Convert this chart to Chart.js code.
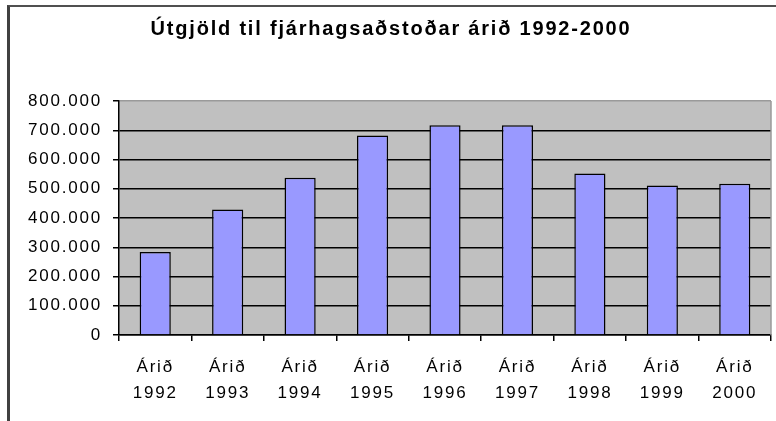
<!DOCTYPE html>
<html>
<head>
<meta charset="utf-8">
<script src="https://cdn.jsdelivr.net/npm/chart.js@4/dist/chart.umd.min.js"></script>
<style>
  html, body { margin: 0; padding: 0; background: #fff; }
  #wrap { position: relative; width: 776px; height: 421px; overflow: hidden; }
  #frame { position: absolute; left: 7px; top: 5px; width: 900px; height: 600px;
           border-left: 3px solid #404040; border-top: 2px solid #505050; }
  canvas { position: absolute; left: 0; top: 0; }
</style>
</head>
<body>
<div id="wrap">
  <div id="frame"></div>
  <canvas id="chart" width="776" height="421"></canvas>
</div>
<script>
// gögn
const years = ['1992', '1993', '1994', '1995', '1996', '1997', '1998', '1999', '2000'];
const expenses = [284000, 429000, 538000, 682000, 717000, 717000, 552000, 511000, 517000];
const yTickValues = [0, 100000, 200000, 300000, 400000, 500000, 600000, 700000, 800000];

const FONT = 'Liberation Sans, Arial, sans-serif';

const fmt = v => String(v).replace(/\B(?=(\d{3})+(?!\d))/g, '.');

// grár bakgrunnur, hægri rammi og stafabil eins og í Excel
const excelLook = {
    id: 'excelLook',
    beforeUpdate(chart) {
        chart.ctx.letterSpacing = '1.8px';
    },
    beforeDraw(chart) {
        const { ctx, chartArea: a } = chart;
        ctx.letterSpacing = '1.8px';
        ctx.save();
        ctx.fillStyle = '#c0c0c0';
        ctx.fillRect(a.left, a.top, a.right - a.left, a.bottom - a.top);
        ctx.restore();
    },
    afterDraw(chart) {
        const { ctx, chartArea: a } = chart;
        ctx.save();
        ctx.strokeStyle = '#9a9a9a';
        ctx.lineWidth = 1.5;
        ctx.beginPath();
        ctx.moveTo(a.right, a.top);
        ctx.lineTo(a.right, a.bottom);
        ctx.stroke();
        ctx.restore();
    }
};

new Chart(document.getElementById('chart'), {
    type: 'bar',
    data: {
        labels: years.map(y => ['Árið', y]),
        datasets: [{
            data: expenses,
            backgroundColor: '#9999ff',
            borderColor: '#000',
            borderWidth: 1.5,
            barPercentage: 0.43,
            categoryPercentage: 1
        }]
    },
    options: {
        responsive: false,
        devicePixelRatio: 1,
        animation: false,
        layout: { padding: { left: 11, right: 5, top: 0, bottom: 0 } },
        plugins: {
            legend: { display: false },
            tooltip: { enabled: false },
            title: {
                display: true,
                text: 'Útgjöld til fjárhagsaðstoðar árið 1992-2000',
                color: '#000',
                font: { family: FONT, size: 20, weight: 'bold' },
                padding: { top: 17, bottom: 60 }
            }
        },
        scales: {
            x: {
                afterFit: s => { s.height = 86; },
                border: { color: '#000', width: 1.5 },
                grid: { offset: true, drawOnChartArea: false, color: '#000', lineWidth: 1.5, tickLength: 6 },
                ticks: {
                    color: '#000', padding: 14, maxRotation: 0, autoSkip: false,
                    font: { family: FONT, size: 17, lineHeight: 1.5 }
                }
            },
            y: {
                min: 0,
                max: 800000,
                afterFit: s => { s.width = 108; },
                afterBuildTicks: s => { s.ticks = yTickValues.map(v => ({ value: v })); },
                border: { color: '#000', width: 1.5 },
                grid: {
                    color: c => (c.tick && c.tick.value === 800000 ? '#9a9a9a' : '#000'),
                    lineWidth: 1.5,
                    tickColor: '#000',
                    tickLength: 6
                },
                ticks: {
                    color: '#000', padding: 11,
                    font: { family: FONT, size: 17 },
                    callback: v => fmt(v)
                }
            }
        }
    },
    plugins: [excelLook]
});
</script>
</body>
</html>
